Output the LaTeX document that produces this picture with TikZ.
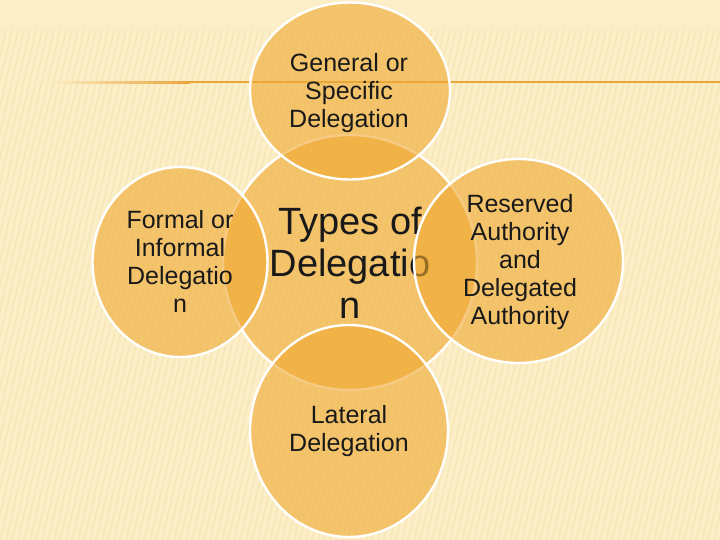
\documentclass[tikz,border=0pt]{standalone}
\usepackage{fontspec}
\setmainfont{Liberation Sans}
\usetikzlibrary{shapes.geometric}
\definecolor{bgcol}{HTML}{FCEFC8}
\definecolor{stripecol}{HTML}{F1DDA2}
\definecolor{linecol}{HTML}{E9A43C}
\definecolor{ballcol}{HTML}{F0A830}
\tikzset{
  ball/.style={ellipse, draw=white, line width=2.4pt, fill=ballcol, fill opacity=0.6, inner sep=0pt},
  smalltxt/.style={align=center, font=\fontsize{25}{28}\selectfont, text=black!90},
  bigtxt/.style={align=center, font=\fontsize{38}{42}\selectfont, text=black!90},
}
\begin{document}
\begin{tikzpicture}[x=1pt,y=-1pt]
\useasboundingbox (0,0) rectangle (720,540);
\fill[bgcol] (0,0) rectangle (720,540);
% background stripes
\begin{scope}
\clip (0,30) rectangle (720,540);
\foreach \i in {0,6,...,870} {
  \draw[stripecol, line width=1.6pt, opacity=0.4] (\i-120,540) -- (\i,30);
}
\end{scope}
% top rule
\shade[left color=bgcol, right color=linecol] (45,81.2) rectangle (190,83.4);
\fill[linecol] (189.5,81.2) rectangle (720,83.4);
% centre
\node[ball, minimum width=254pt, minimum height=255pt] (c) at (350,262.5) {};
\node[bigtxt] (ct) at (c.center) {Types of\\Delegatio\\n};
% satellites
\node[ball, minimum width=200pt, minimum height=177pt] (t) at (350,91) {};
\node[ball, minimum width=175pt, minimum height=190pt] (l) at (180,262) {};
\node[ball, minimum width=209pt, minimum height=204pt] (r) at (518.5,261) {};
\node[ball, minimum width=198pt, minimum height=212pt] (b) at (349,431) {};
\node[smalltxt] (tt) at (349,93) {General or\\Specific\\Delegation};
\node[smalltxt] (lt) at (180,261) {Formal or\\Informal\\Delegatio\\n};
\node[smalltxt] (rt) at (520,262.5) {Reserved\\Authority\\and\\Delegated\\Authority};
\node[smalltxt] (bt) at (349,431) {Lateral\\Delegation};
\end{tikzpicture}
\end{document}
